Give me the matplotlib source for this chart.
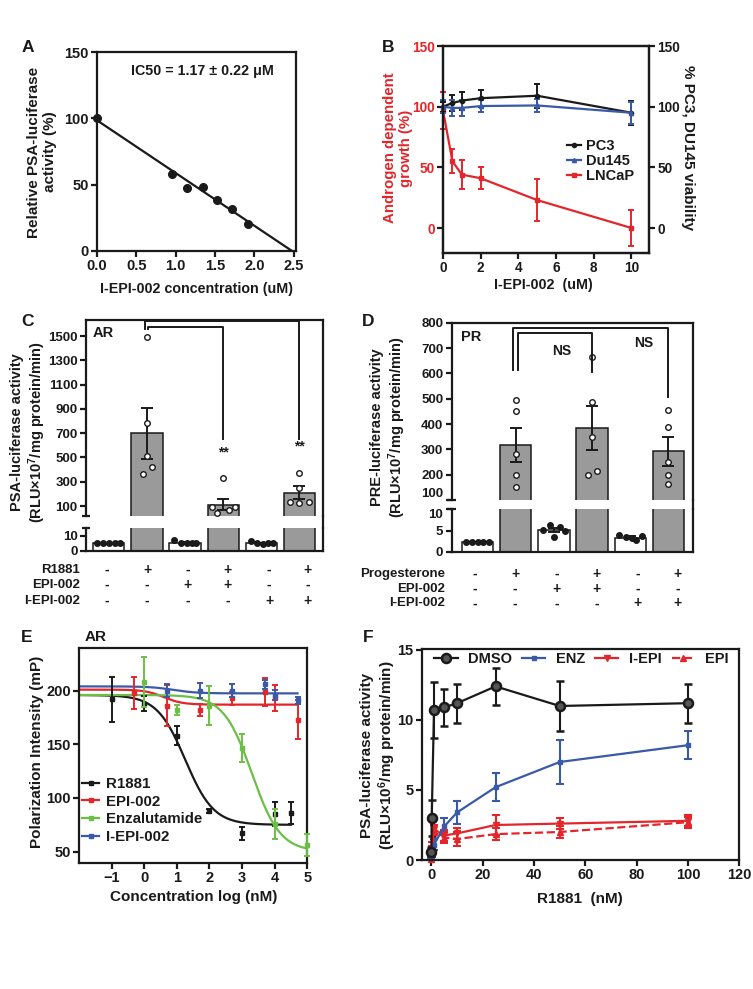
import matplotlib
matplotlib.use('Agg')
import matplotlib.pyplot as plt
from matplotlib.lines import Line2D
import numpy as np

plt.rcParams['font.family'] = ['Liberation Sans', 'DejaVu Sans']
plt.rcParams['font.weight'] = 'bold'
plt.rcParams['axes.labelweight'] = 'bold'
plt.rcParams['axes.linewidth'] = 1.6
plt.rcParams['mathtext.fontset'] = 'custom'
plt.rcParams['mathtext.rm'] = 'Liberation Sans:bold'
plt.rcParams['mathtext.default'] = 'rm'

INK = '#1a1a1a'
RED = '#e3262b'
BLUE = '#3a5aa8'
GREEN = '#6cbf46'
GRAY = '#9a9a9a'

# ---------------- data ----------------
# Panel A
A_conc = [0.0, 0.95, 1.15, 1.35, 1.53, 1.72, 1.92]
A_act = [100, 58, 47.5, 48.5, 38.5, 31.5, 20]
A_fit_x = [0.0, 2.48]
A_fit_y = [98.5, 0.0]
A_xticks = [0.0, 0.5, 1.0, 1.5, 2.0, 2.5]
A_yticks = [0, 50, 100, 150]

# Panel B
B_x = [0, 0.5, 1, 2, 5, 10]
B_pc3 = [100, 103, 105, 107, 109, 95]
B_pc3_err = [4, 6.5, 7.5, 7, 10, 10]
B_du145 = [100, 99, 99, 100.5, 101, 95]
B_du145_err = [5.5, 6.5, 6.5, 5, 5.5, 9]
B_lncap = [97, 55, 44, 41, 23, 0]
B_lncap_err = [15, 10, 12, 9, 17, 15]
B_xticks = [0, 2, 4, 6, 8, 10]
B_yticks = [0, 50, 100, 150]

# Panel C (AR)
C_means = [5.0, 700, 5.0, 110, 4.9, 210]
C_sems = [0.25, 210, 0.5, 45, 0.4, 55]
C_points = [[5.2, 5.2, 5.2, 5.2, 5.2],
            [1495, 780, 515, 420, 360],
            [7.3, 5.1, 5.0, 4.9, 5.0],
            [335, 90, 40, 65, 95],
            [6.3, 5.1, 4.6, 5.0, 5.2],
            [370, 245, 130, 125, 130]]
C_rows = ['R1881', 'EPI-002', 'I-EPI-002']
C_signs = [['-', '+', '-', '+', '-', '+'],
           ['-', '-', '+', '+', '-', '-'],
           ['-', '-', '-', '-', '+', '+']]
C_upper_ticks = [100, 300, 500, 700, 900, 1100, 1300, 1500]
C_lower_ticks = [0, 10]

# Panel D (PR)
D_means = [2.3, 318, 5.1, 385, 3.3, 292]
D_sems = [0.05, 68, 0.5, 86, 0.3, 56]
D_points = [[2.3, 2.3, 2.3, 2.3, 2.3],
            [495, 452, 283, 200, 150],
            [6.4, 5.9, 5.1, 4.9, 3.5],
            [665, 488, 348, 200, 215],
            [3.9, 3.5, 3.2, 2.8, 3.6],
            [455, 390, 250, 200, 165]]
D_rows = ['Progesterone', 'EPI-002', 'I-EPI-002']
D_signs = C_signs
D_upper_ticks = [100, 200, 300, 400, 500, 600, 700, 800]
D_lower_ticks = [0, 5, 10]

# Panel E (fluorescence polarization), points and 4PL fit parameters
E_r1881_x = [-1, 0, 1, 2, 3, 4, 4.5]
E_r1881_y = [192, 188, 158, 88, 67, 85, 86]
E_r1881_e = [21, 7, 9, 2, 6, 11, 10]
E_epi_x = [-0.3, 0.7, 1.7, 2.7, 3.7, 4.0, 4.7]
E_epi_y = [198, 186, 182, 193, 199, 193, 173]
E_epi_e = [15, 19, 6, 6, 13, 12, 18]
E_enz_x = [0, 1, 2, 3, 4, 5]
E_enz_y = [208, 182, 186, 147, 76, 56]
E_enz_e = [23, 5, 18, 13, 14, 10]
E_iepi_x = [0.7, 1.7, 2.7, 3.7, 4.0, 4.7]
E_iepi_y = [200, 200, 200, 206, 196, 191]
E_iepi_e = [6, 7, 6, 4, 5, 3]
# fit: top, bottom, logIC50, hill, x_end
E_fit_r1881 = [196, 75, 1.26, 1.0, 4.5]
E_fit_epi = [201, 187, 0.6, 1.5, 4.7]
E_fit_enz = [196, 50, 3.3, 1.0, 5.0]
E_fit_iepi = [204, 197.5, 0.9, 1.2, 4.7]
E_xticks = [-1, 0, 1, 2, 3, 4, 5]
E_yticks = [50, 100, 150, 200]

# Panel F
F_x = [0, 0.1, 1, 5, 10, 25, 50, 100]
F_dmso = [0.6, 3.0, 10.7, 10.9, 11.2, 12.4, 11.0, 11.2]
F_dmso_e = [0.3, 1.3, 2.0, 1.3, 1.4, 1.3, 1.8, 1.4]
F_enz = [0.2, 0.6, 1.1, 2.4, 3.4, 5.2, 7.0, 8.2]
F_enz_e = [0.1, 0.2, 0.4, 0.6, 0.8, 1.0, 1.6, 1.0]
F_iepi = [0.2, 0.6, 2.2, 1.75, 1.9, 2.5, 2.6, 2.8]
F_iepi_e = [0.1, 0.4, 0.7, 0.4, 0.4, 0.7, 0.4, 0.4]
F_epi = [0.1, 1.0, 2.0, 1.6, 1.5, 1.85, 2.0, 2.7]
F_epi_e = [0.1, 0.3, 0.5, 0.4, 0.5, 0.45, 0.4, 0.4]
F_xticks = [0, 20, 40, 60, 80, 100, 120]
F_yticks = [0, 5, 10, 15]

# ---------------- layout ----------------
W, H = 753, 989
fig = plt.figure(figsize=(W / 100, H / 100), dpi=100)


def box(l, t, r, b):
    return fig.add_axes([l / W, 1 - b / H, (r - l) / W, (b - t) / H])


def ftext(x, y, s, **kw):
    kw.setdefault('fontweight', 'bold')
    kw.setdefault('color', INK)
    fig.text(x / W, 1 - y / H, s, **kw)


def style(ax, size=10.5):
    for sp in ax.spines.values():
        sp.set_color(INK)
        sp.set_linewidth(1.6)
    ax.tick_params(direction='out', length=4, width=1.6, colors=INK,
                   labelsize=size, pad=2)
    for lab in ax.get_xticklabels() + ax.get_yticklabels():
        lab.set_fontweight('bold')


def four_pl(p, x0):
    top, bot, c, h, x1 = p
    xs = np.linspace(x0, x1, 300)
    return xs, bot + (top - bot) / (1 + 10 ** ((xs - c) * h))


# panel letters
for letter, (x, y) in {'A': (28, 47), 'B': (388, 47), 'C': (27, 322),
                       'D': (368, 321), 'E': (27, 637), 'F': (368, 637)}.items():
    ftext(x, y, letter, fontsize=12.5, ha='center', va='center')

# ---------------- A ----------------
axA = box(97, 52, 296, 251)
axA.plot(A_fit_x, A_fit_y, color=INK, lw=1.6, zorder=2)
axA.plot(A_conc, A_act, 'o', color=INK, ms=5.5, zorder=3, clip_on=False)
axA.set_xlim(0, 2.53)
axA.set_ylim(0, 150)
axA.set_xticks(A_xticks)
axA.set_xticklabels(['%.1f' % v for v in A_xticks])
axA.set_yticks(A_yticks)
style(axA)
axA.text(0.53, 0.905, 'IC50 = 1.17 \u00b1 0.22 \u03bcM', transform=axA.transAxes,
         ha='center', va='center', fontsize=10.3, fontweight='bold', color=INK)
ftext(42, 152, 'Relative PSA-luciferase\nactivity (%)', rotation=90,
      ha='center', va='center', fontsize=11, linespacing=1.15)
ftext(196, 289, 'I-EPI-002 concentration (uM)', ha='center', va='center', fontsize=10.3)

# ---------------- B ----------------
axB = box(443, 46, 649, 253)
axB2 = axB.twinx()
for ax in (axB, axB2):
    ax.set_xlim(0, 10.93)
    ax.set_ylim(-20.6, 150)
    ax.set_yticks(B_yticks)
axB.set_xticks(B_xticks)
ek = dict(capsize=2.5, elinewidth=1.4, capthick=1.4, lw=1.6, clip_on=False)
axB2.errorbar(B_x, B_pc3, yerr=B_pc3_err, color=INK, marker='o', ms=3, **ek)
axB2.errorbar(B_x, B_du145, yerr=B_du145_err, color=BLUE, marker='^', ms=3, **ek)
axB.errorbar(B_x, B_lncap, yerr=B_lncap_err, color=RED, marker='s', ms=3, **ek)
style(axB, 9.8)
style(axB2, 9.8)
axB.tick_params(axis='y', labelcolor=RED)
handlesB = [Line2D([], [], color=INK, marker='o', ms=3, lw=1.6),
            Line2D([], [], color=BLUE, marker='^', ms=3, lw=1.6),
            Line2D([], [], color=RED, marker='s', ms=3, lw=1.6)]
legB = axB2.legend(handlesB, ['PC3', 'Du145', 'LNCaP'], loc='upper left',
                   bbox_to_anchor=(0.6, 0.55), frameon=False, fontsize=10.5,
                   handlelength=1.0, handletextpad=0.35, labelspacing=0.05,
                   borderpad=0, borderaxespad=0)
for t in legB.get_texts():
    t.set_fontweight('bold')
    t.set_color(INK)
ftext(398, 148, 'Androgen dependent\ngrowth (%)', rotation=90, ha='center',
      va='center', fontsize=10.8, color=RED, linespacing=1.1)
ftext(688, 148, '% PC3, DU145 viability', rotation=270, ha='center',
      va='center', fontsize=11)
ftext(543, 285, 'I-EPI-002  (uM)', ha='center', va='center', fontsize=10.3)


# ---------------- C / D broken bar charts ----------------
def broken(l, r, tu, bu, tl, bl, ylu, yll, xlim, means, sems, pts, offs,
           uticks, lticks, brackets, notes, rows, signs, rowx, rowys, signx, tag, tagxy):
    axu = box(l, tu, r, bu)
    axl = box(l, tl, r, bl)
    pos = np.arange(len(means))
    cols = ['white' if i % 2 == 0 else GRAY for i in pos]
    for ax, yl, keep in ((axu, ylu, lambda v: v > ylu[0]), (axl, yll, lambda v: v < yll[1])):
        ax.bar(pos, means, width=0.82, color=cols, edgecolor=INK, linewidth=1.1, zorder=2)
        sel = [i for i in pos if keep(means[i])]
        ax.errorbar([pos[i] for i in sel], [means[i] for i in sel],
                    yerr=[sems[i] for i in sel], fmt='none', ecolor=INK,
                    elinewidth=1.4, capsize=4.5, capthick=1.4, zorder=3)
        for i, (vals, of) in enumerate(zip(pts, offs)):
            fc = 'white' if i % 2 == 1 else INK
            xs = [pos[i] + o for o, v in zip(of, vals) if keep(v)]
            vs = [v for v in vals if keep(v)]
            if vs:
                ax.scatter(xs, vs, s=16, facecolor=fc, edgecolor=INK,
                           linewidth=1.0, zorder=4)
        ax.set_xlim(*xlim)
        ax.set_ylim(*yl)
        ax.set_xticks([])
        style(ax, 9.5)
    axu.set_yticks(uticks)
    axl.set_yticks(lticks)
    axu.spines['bottom'].set_visible(False)
    axl.spines['top'].set_visible(False)
    for ax, yy in ((axu, 0), (axl, 1)):
        ax.plot([-0.018, 0.018], [yy, yy], transform=ax.transAxes, color=INK,
                lw=1.6, clip_on=False, solid_capstyle='butt')
    fig.add_artist(Line2D([r / W, r / W], [1 - bu / H, 1 - tl / H], color=INK, lw=1.6))
    for xs, ys in brackets:
        axu.plot(xs, ys, color=INK, lw=1.4, clip_on=False, zorder=5)
    for x, y, s in notes:
        axu.text(x, y, s, ha='center', va='center', fontsize=10, fontweight='bold', color=INK)
    axu.text(tagxy[0], tagxy[1], tag, transform=axu.transAxes, ha='left', va='center',
             fontsize=10.5, fontweight='bold', color=INK)
    for name, sg, yy in zip(rows, signs, rowys):
        ftext(rowx, yy, name, ha='right', va='center', fontsize=9.5)
        for sx, s in zip(signx, sg):
            ftext(sx, yy, s, ha='center', va='center', fontsize=10)
    return axu, axl


C_offs = [[-0.3, -0.15, 0, 0.15, 0.3], [0, 0, 0, 0.13, -0.1],
          [-0.28, -0.1, 0.05, 0.18, 0.3], [0, -0.3, -0.15, 0.15, 0.32],
          [-0.28, -0.1, 0.05, 0.18, 0.3], [0, 0, -0.24, 0, 0.24]]
C_br = [([0.95, 0.95, 5, 5], [1555, 1622, 1622, 650]),
        ([1.03, 1.03, 3, 3], [1555, 1575, 1575, 650])]
C_notes = [(3, 545, '**'), (5, 590, '**')]
broken(86, 323, 320, 516, 528, 550.7, (18, 1632), (0, 15.2), (-0.6, 5.62),
       C_means, C_sems, C_points, C_offs, C_upper_ticks, C_lower_ticks,
       C_br, C_notes, C_rows, C_signs, 80, [570, 585, 600.5],
       [107, 147, 188, 228, 269, 308], 'AR', (0.03, 0.935))
ftext(29, 432, 'PSA-luciferase activity\n(RLU\u00d710$^{7}$/mg protein/min)', rotation=90,
      ha='center', va='center', fontsize=10.5, linespacing=1.2)

D_offs = [[-0.3, -0.15, 0, 0.15, 0.3], [0, 0, 0, 0, 0],
          [-0.1, 0.15, -0.28, 0.28, 0.0], [0, 0, 0, -0.1, 0.12],
          [-0.28, -0.1, 0.05, 0.15, 0.3], [0, 0, 0, 0, 0]]
D_br = [([0.92, 0.92, 5, 5], [615, 780, 780, 505]),
        ([1.07, 1.07, 3, 3], [615, 758, 758, 605])]
D_notes = [(2.2, 690, 'NS'), (4.35, 718, 'NS')]
axDu, axDl = broken(451.7, 692.7, 322.7, 500, 509.3, 551.7, (100, 800), (0, 10), (-0.68, 5.64),
                    D_means, D_sems, D_points, D_offs, D_upper_ticks, D_lower_ticks,
                    D_br, D_notes, D_rows, D_signs, 445, [574, 589, 603.3],
                    [475, 515, 556.5, 596.5, 638, 678], 'PR', (0.04, 0.92))
# in the reference the "100" and "10" labels almost touch; nudge to keep both legible
axDl.yaxis.get_major_ticks()[-1].label1.set_va('top')
axDu.yaxis.get_major_ticks()[0].label1.set_va('bottom')
ftext(389, 427, 'PRE-luciferase activity\n(RLU\u00d710$^{7}$/mg protein/min)', rotation=90,
      ha='center', va='center', fontsize=10.5, linespacing=1.1)

# ---------------- E ----------------
axE = box(79, 648.3, 307.3, 862.7)
ekE = dict(fmt='none', capsize=2, elinewidth=1.4, capthick=1.4, clip_on=False)
series = [(E_r1881_x, E_r1881_y, E_r1881_e, E_fit_r1881, INK),
          (E_epi_x, E_epi_y, E_epi_e, E_fit_epi, RED),
          (E_enz_x, E_enz_y, E_enz_e, E_fit_enz, GREEN),
          (E_iepi_x, E_iepi_y, E_iepi_e, E_fit_iepi, BLUE)]
for k, (x, y, e, p, c) in enumerate(series):
    xs, ys = four_pl(p, -2)
    axE.plot(xs, ys, color=c, lw=1.6, zorder=2 + k * 0.1)
    axE.errorbar(x, y, yerr=e, ecolor=c, zorder=3, **ekE)
    axE.plot(x, y, 's', color=c, ms=2.5, zorder=3, clip_on=False)
axE.set_xlim(-2, 5)
axE.set_ylim(39.7, 239.5)
axE.set_xticks(E_xticks)
axE.set_yticks(E_yticks)
style(axE)
handlesE = [Line2D([], [], color=c, marker='s', ms=2.5, lw=1.6) for c in (INK, RED, GREEN, BLUE)]
legE = axE.legend(handlesE, ['R1881', 'EPI-002', 'Enzalutamide', 'I-EPI-002'],
                  loc='upper left', bbox_to_anchor=(0.015, 0.40), frameon=False,
                  fontsize=10.8, handlelength=1.1, handletextpad=0.45,
                  labelspacing=0.25, borderpad=0, borderaxespad=0)
for t in legE.get_texts():
    t.set_fontweight('bold')
    t.set_color(INK)
ftext(85, 637, 'AR', ha='left', va='center', fontsize=11)
ftext(37, 752, 'Polarization Intensity (mP)', rotation=90, ha='center', va='center', fontsize=11)
ftext(194, 897, 'Concentration log (nM)', ha='center', va='center', fontsize=11)

# ---------------- F ----------------
axF = box(421.7, 649, 739.3, 860)
ekF = dict(capsize=3, elinewidth=1.5, capthick=1.5, lw=1.6, clip_on=False)
axF.errorbar(F_x, F_epi, yerr=F_epi_e, color=RED, marker='^', ms=4, ls='--', **ekF)
axF.errorbar(F_x, F_iepi, yerr=F_iepi_e, color=RED, marker='v', ms=4, **ekF)
axF.errorbar(F_x, F_enz, yerr=F_enz_e, color=BLUE, marker='s', ms=3.5, **ekF)
axF.errorbar(F_x, F_dmso, yerr=F_dmso_e, color=INK, marker='o', ms=6.5,
             mfc='#555555', mec=INK, mew=1.8, **ekF)
axF.set_xlim(-3.8, 120)
axF.set_ylim(0, 15.07)
axF.set_xticks(F_xticks)
axF.set_yticks(F_yticks)
style(axF)
handlesF = [Line2D([], [], color=INK, marker='o', ms=6.5, mfc='#555555', mew=1.8, lw=1.6),
            Line2D([], [], color=BLUE, marker='s', ms=3.5, lw=1.6),
            Line2D([], [], color=RED, marker='v', ms=4, lw=1.6),
            Line2D([], [], color=RED, marker='^', ms=4, lw=1.6, ls='--')]
legF = axF.legend(handlesF, ['DMSO', 'ENZ', 'I-EPI', 'EPI'], loc='upper left',
                  bbox_to_anchor=(0.04, 0.985), ncol=4, frameon=False, fontsize=10.5,
                  handlelength=1.6, handletextpad=0.7, columnspacing=0.7,
                  borderpad=0, borderaxespad=0)
for t in legF.get_texts():
    t.set_fontweight('bold')
    t.set_color(INK)
ftext(379, 755, 'PSA-luciferase activity\n(RLU\u00d710$^{6}$/mg protein/min)', rotation=90,
      ha='center', va='center', fontsize=11, linespacing=1.1)
ftext(580, 899, 'R1881  (nM)', ha='center', va='center', fontsize=11)

fig.savefig('out.png', dpi=100)
